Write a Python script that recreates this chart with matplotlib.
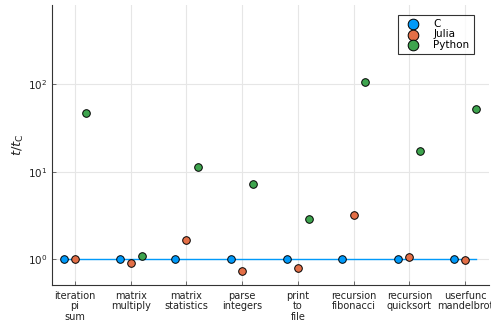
import matplotlib
matplotlib.use("Agg")
import matplotlib.pyplot as plt
import numpy as np

benchmarks = ["iteration\npi\nsum", "matrix\nmultiply", "matrix\nstatistics", "parse\nintegers",
              "print\nto\nfile", "recursion\nfibonacci", "recursion\nquicksort", "userfunc\nmandelbrot"]
c_times = [1, 1, 1, 1, 1, 1, 1, 1]
julia_times = [1.0, 0.90, 1.66, 0.73, 0.80, 3.18, 1.06, 0.99]
python_times = [47.5, 1.10, 11.3, 7.2, 2.92, 106, 17.1, 52.7]

colors = ["#009AFA", "#E36F47", "#3EA44E"]

fig = plt.figure(figsize=(4.91, 3.27), dpi=100)
ax = fig.add_axes([52/491, 1-285/327, (489-52)/491, (285-5)/327])

x = np.arange(1, len(benchmarks) + 1)
off = 0.2

# C baseline line
ax.plot([x[0] - off, x[-1] + off], [1, 1], color=colors[0], lw=1, zorder=2)

for dx, vals, col, name in [(-off, c_times, colors[0], "C"),
                            (0, julia_times, colors[1], "Julia"),
                            (off, python_times, colors[2], "Python")]:
    ax.scatter(x + dx, vals, s=30, color=col, edgecolor="black", linewidth=0.7, zorder=3, label=name)

ax.set_yscale("log")
ax.set_ylim(0.508, 806)
ax.set_xlim(0.587, 8.43)
ax.set_yticks([1, 10, 100])
ax.set_yticklabels([r"$10^{0}$", r"$10^{1}$", r"$10^{2}$"])
ax.yaxis.set_minor_locator(matplotlib.ticker.NullLocator())
ax.set_xticks(x)
ax.set_xticklabels(benchmarks, fontsize=7, color="#222222", linespacing=1.1)
ax.tick_params(axis="x", pad=4)
ax.tick_params(axis="y", labelsize=7.5, colors="#222222")
ax.tick_params(direction="in", length=3, width=0.6, color="#555555")
ax.grid(True, color="#e6e6e6", lw=0.8)
ax.set_axisbelow(True)
for s in ["top", "right"]:
    ax.spines[s].set_visible(False)
for s in ["left", "bottom"]:
    ax.spines[s].set_color("#333333")
    ax.spines[s].set_linewidth(0.8)

ax.set_ylabel(r"$t/t_{\mathrm{C}}$", fontsize=9.5, color="#222222", labelpad=1)

leg = ax.legend(loc="upper right", bbox_to_anchor=(0.965, 0.965), fontsize=7.5, frameon=True,
                fancybox=False, edgecolor="black", borderpad=0.4, handletextpad=1.0,
                labelspacing=0.05, markerscale=1.4, borderaxespad=0)
leg.get_frame().set_linewidth(0.8)

fig.savefig("out.png", dpi=100)
